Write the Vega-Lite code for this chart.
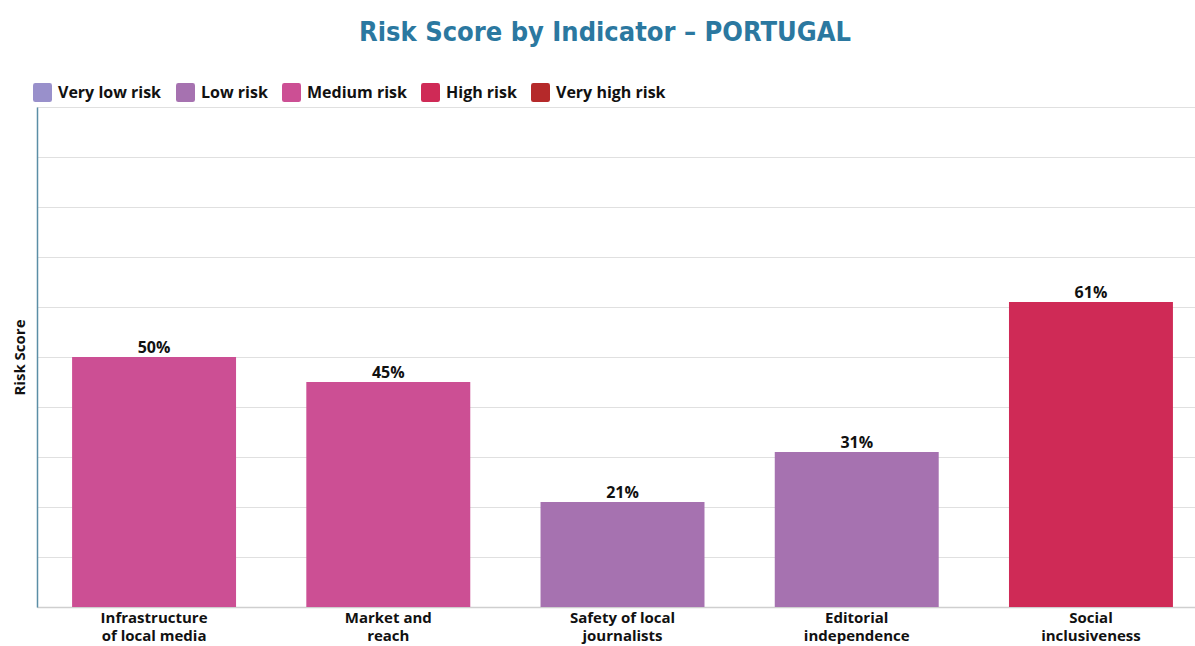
{
  "$schema": "https://vega.github.io/schema/vega-lite/v6.json",
  "autosize": {"type": "none"},
  "width": 1158,
  "height": 500,
  "padding": {"left": 37, "top": 107, "right": 0, "bottom": 39},
  "background": "white",
  "title": {
    "text": "Risk Score by Indicator – PORTUGAL",
    "font": "DejaVu Sans Condensed, Liberation Sans Narrow, Roboto Condensed, Roboto, sans-serif",
    "fontSize": 27,
    "fontWeight": "bold",
    "color": "#2b78a0",
    "anchor": "middle",
    "baseline": "middle",
    "offset": 23,
    "dx": -11
  },
  "data": {
    "values": [
      {"indicator": "Infrastructure of local media", "score": 0.50, "risk": "Medium risk"},
      {"indicator": "Market and reach", "score": 0.45, "risk": "Medium risk"},
      {"indicator": "Safety of local journalists", "score": 0.21, "risk": "Low risk"},
      {"indicator": "Editorial independence", "score": 0.31, "risk": "Low risk"},
      {"indicator": "Social inclusiveness", "score": 0.61, "risk": "High risk"}
    ]
  },
  "encoding": {
    "x": {
      "field": "indicator",
      "type": "nominal",
      "sort": null,
      "scale": {"paddingInner": 0.3, "paddingOuter": 0.122, "align": 0.614},
      "axis": {
        "title": null,
        "labelAngle": 0,
        "labelFont": "Open Sans",
        "labelFontWeight": "bold",
        "labelFontSize": 15,
        "labelColor": "#111111",
        "labelLineHeight": 18,
        "labelPadding": 3,
        "ticks": false,
        "domainColor": "#cfcfcf",
        "domainWidth": 1.5,
        "labelExpr": "datum.label == 'Infrastructure of local media' ? ['Infrastructure', 'of local media'] : datum.label == 'Market and reach' ? ['Market and', 'reach'] : datum.label == 'Safety of local journalists' ? ['Safety of local', 'journalists'] : datum.label == 'Editorial independence' ? ['Editorial', 'independence'] : ['Social', 'inclusiveness']"
      }
    },
    "y": {
      "field": "score",
      "type": "quantitative",
      "scale": {"domain": [0, 1], "nice": false},
      "axis": {
        "title": "Risk Score",
        "titleFont": "Open Sans",
        "titleFontWeight": "bold",
        "titleFontSize": 15,
        "titleColor": "#111111",
        "titlePadding": 10,
        "labels": false,
        "labelOverlap": false,
        "ticks": false,
        "values": [0, 0.1, 0.2, 0.3, 0.4, 0.5, 0.6, 0.7, 0.8, 0.9, 1],
        "domainColor": "#5b8ea6",
        "domainWidth": 1.5,
        "gridColor": "#e0e0e0",
        "gridWidth": 1.2
      }
    }
  },
  "layer": [
    {
      "mark": {"type": "bar"},
      "encoding": {
        "color": {
          "field": "risk",
          "type": "nominal",
          "scale": {
            "domain": ["Very low risk", "Low risk", "Medium risk", "High risk", "Very high risk"],
            "range": ["#9990cb", "#a672b0", "#cc4f94", "#cf2a56", "#b5292a"]
          },
          "legend": {
            "title": null,
            "orient": "none",
            "legendX": -4,
            "legendY": -24,
            "direction": "horizontal",
            "columns": 5,
            "columnPadding": 14,
            "symbolType": "M-0.75,-1L0.75,-1Q1,-1 1,-0.75L1,0.75Q1,1 0.75,1L-0.75,1Q-1,1 -1,0.75L-1,-0.75Q-1,-1 -0.75,-1Z",
            "symbolSize": 361,
            "symbolStrokeWidth": 0,
            "symbolOpacity": 1,
            "labelFont": "Open Sans",
            "labelFontWeight": "bold",
            "labelFontSize": 16,
            "labelColor": "#111111",
            "labelOffset": 6
          }
        }
      }
    },
    {
      "mark": {"type": "text", "baseline": "bottom", "dy": -1, "font": "Open Sans", "fontWeight": "bold", "fontSize": 16, "color": "#111111"},
      "encoding": {
        "text": {"field": "score", "type": "quantitative", "format": ".0%"}
      }
    }
  ]
}
